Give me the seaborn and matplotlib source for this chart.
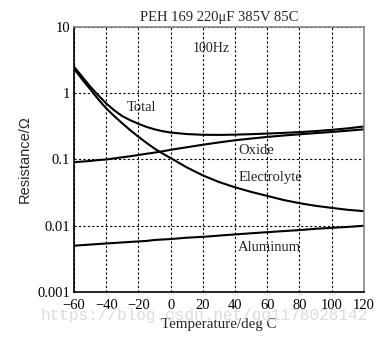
import matplotlib
matplotlib.use("Agg")
import matplotlib.pyplot as plt
import seaborn as sns
import pandas as pd

temps = [-60, -55, -50, -45, -40, -35, -30, -25, -20, -15, -10, -5, 0, 10, 20, 30, 40, 50, 60, 70, 80, 90, 100, 110, 120]
total = [2.50, 1.78, 1.26, 0.93, 0.70, 0.55, 0.45, 0.39, 0.345, 0.31, 0.285, 0.267, 0.255, 0.242, 0.236, 0.235, 0.237, 0.241, 0.246, 0.252, 0.259, 0.268, 0.280, 0.295, 0.315]
oxide = [0.091, 0.093, 0.095, 0.098, 0.100, 0.104, 0.108, 0.112, 0.117, 0.122, 0.127, 0.133, 0.140, 0.153, 0.167, 0.181, 0.195, 0.207, 0.219, 0.230, 0.240, 0.250, 0.260, 0.272, 0.285]
electrolyte = [2.34, 1.62, 1.15, 0.81, 0.59, 0.45, 0.35, 0.275, 0.22, 0.178, 0.146, 0.123, 0.105, 0.076, 0.0575, 0.0457, 0.038, 0.0324, 0.0282, 0.0245, 0.0219, 0.0200, 0.0186, 0.0174, 0.0166]
aluminum = [0.0050, 0.0051, 0.0052, 0.0053, 0.0054, 0.0055, 0.0056, 0.0057, 0.0058, 0.0059, 0.0061, 0.0062, 0.0063, 0.0066, 0.0068, 0.0071, 0.0074, 0.0077, 0.0080, 0.0083, 0.0086, 0.0090, 0.0093, 0.0096, 0.0100]

xticks = [-60, -40, -20, 0, 20, 40, 60, 80, 100, 120]
xticklabels = ["\u221260", "\u221240", "\u221220", "0", "20", "40", "60", "80", "100", "120"]
yticks = [0.001, 0.01, 0.1, 1, 10]
yticklabels = ["0.001", "0.01", "0.1", "1", "10"]

series = {"Total": total, "Oxide": oxide, "Electrolyte": electrolyte, "Aluminum": aluminum}
rows = []
for name, vals in series.items():
    for t, v in zip(temps, vals):
        rows.append({"T": t, "R": v, "S": name})
df = pd.DataFrame(rows)

sns.set_style("white")
plt.rcParams["font.family"] = ["Liberation Serif", "DejaVu Serif"]

fig = plt.figure(figsize=(3.9, 3.37), dpi=100)
ax = fig.add_axes([0.19, 0.1335, 0.743, 0.7865])

sns.lineplot(data=df, x="T", y="R", units="S", estimator=None, color="black",
             linewidth=1.5, ax=ax, legend=False)
ax.set_yscale("log")
ax.set_xlim(-60, 120)
ax.set_ylim(0.001, 10)
ax.set_xticks(xticks)
ax.set_xticklabels(xticklabels)
ax.set_yticks(yticks)
ax.set_yticklabels(yticklabels)
ax.minorticks_off()
ax.tick_params(axis="both", length=0, labelsize=10.5, colors="black")
ax.tick_params(axis="x", pad=5)
ax.tick_params(axis="y", pad=3)
ax.grid(True, which="major", color="black", linestyle=(0, (2, 2)), linewidth=0.8)
for sp in ax.spines.values():
    sp.set_color("black")
    sp.set_linewidth(1.2)
ax.spines["top"].set_color("#888888")
ax.spines["right"].set_color("#888888")

ax.set_xlabel("Temperature/deg C", fontsize=10.8, labelpad=4)
ax.set_ylabel("Resistance/\u03a9", fontsize=10.5, family=["Liberation Sans", "DejaVu Sans"], labelpad=4)
ax.set_title("PEH 169 220\u03bcF 385V 85C", fontsize=10.5, pad=4)

ax.text(13.5, 4.8, "100Hz", fontsize=10, va="center")
ax.text(-27, 0.6, "Total", fontsize=10.5, va="center")
ax.text(42, 0.135, "Oxide", fontsize=10.5, va="center")
ax.text(42, 0.053, "Electrolyte", fontsize=10.5, va="center")
ax.text(42, 0.0047, "Aluminum", fontsize=10.5, va="center")

fig.text(0.105, 0.064, "https://blog.csdn.net/qq1178028142", fontsize=11.6,
         family=["Liberation Mono", "DejaVu Sans Mono"], color="#dcdcdc", zorder=0,
         va="center")

fig.savefig("out.png", dpi=100, facecolor="white")
